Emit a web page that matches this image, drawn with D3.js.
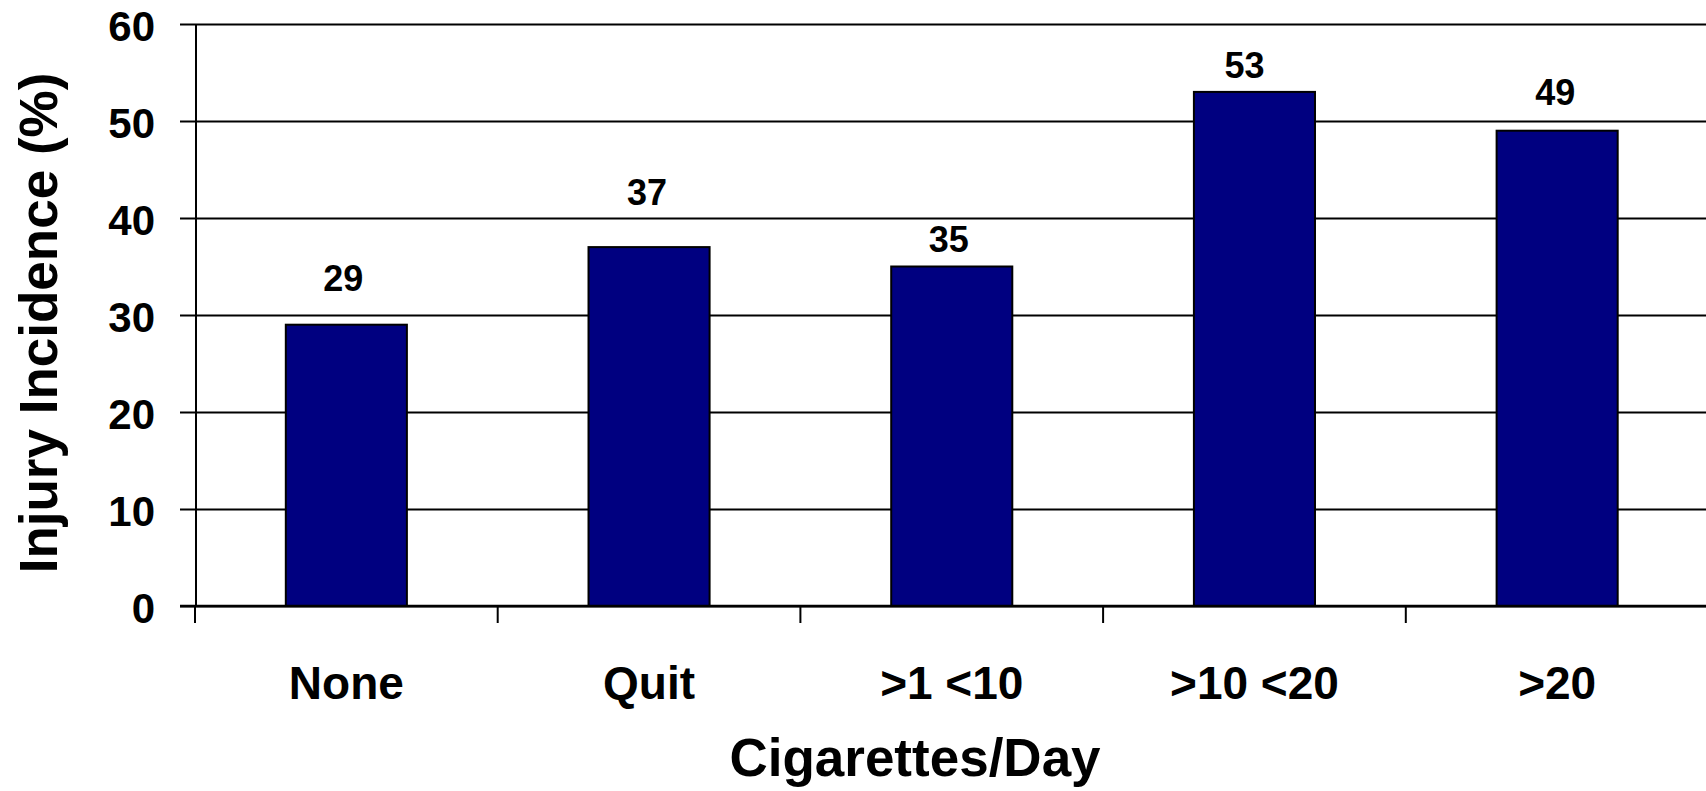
<!DOCTYPE html>
<html>
<head>
<meta charset="utf-8">
<script src="https://cdn.jsdelivr.net/npm/d3@7"></script>
<style>
  html, body { margin: 0; padding: 0; background: #fff; }
  svg { display: block; font-family: "Liberation Sans", Arial, sans-serif; font-weight: bold; }
</style>
</head>
<body>
<svg id="chart" width="1706" height="791"></svg>
<script>
// Injury incidence by smoking habit
const categories = ["None", "Quit", ">1 <10", ">10 <20", ">20"];
const incidence = [29, 37, 35, 53, 49];
const yTicks = [0, 10, 20, 30, 40, 50, 60];

// Value label placement: vertical gap above each bar top and a small horizontal nudge (px)
const labelGap = [34, 42, 15, 14, 26];
const labelNudge = [-3, -2, -3, -10, -2];

const W = 1706, H = 791;
const plot = { left: 195, right: 1708.5, top: 24, bottom: 606 };

const svg = d3.select("#chart");

const x = d3.scaleBand()
  .domain(categories)
  .range([plot.left, plot.right])
  .paddingInner(0.6)
  .paddingOuter(0.3);

const y = d3.scaleLinear()
  .domain([0, 60])
  .range([plot.bottom, plot.top]);

// Horizontal gridlines with outward tick stubs and value labels
const gridAxis = d3.axisLeft(y)
  .tickValues(yTicks)
  .tickSizeInner(-(plot.right - 180))
  .tickSizeOuter(0)
  .tickPadding(25);

const gy = svg.append("g")
  .attr("transform", "translate(180,0)")
  .call(gridAxis);
gy.select(".domain").remove();
gy.selectAll(".tick line").attr("stroke", "#000").attr("stroke-width", 2);
gy.selectAll(".tick text")
  .attr("fill", "#000")
  .attr("font-size", 42)
  .attr("font-weight", "bold")
  .attr("font-family", "'Liberation Sans', Arial, sans-serif")
  .attr("dy", "0.4em");

const rows = categories.map((c, i) => ({ c, v: incidence[i], i }));

// Bars
svg.append("g")
  .selectAll("rect")
  .data(rows)
  .join("rect")
  .attr("x", d => x(d.c))
  .attr("y", d => y(d.v))
  .attr("width", x.bandwidth())
  .attr("height", d => y(0) - y(d.v))
  .attr("fill", "#000080")
  .attr("stroke", "#000")
  .attr("stroke-width", 2);

// Value labels above bars
svg.append("g")
  .selectAll("text")
  .data(rows)
  .join("text")
  .attr("x", d => x(d.c) + x.bandwidth() / 2 + labelNudge[d.i])
  .attr("y", d => y(d.v) - labelGap[d.i])
  .attr("text-anchor", "middle")
  .attr("font-size", 36)
  .attr("fill", "#000")
  .text(d => d.v);

// Vertical axis line
svg.append("line")
  .attr("x1", 196).attr("x2", 196)
  .attr("y1", y(60)).attr("y2", y(0))
  .attr("stroke", "#000").attr("stroke-width", 2);

// Baseline
svg.append("line")
  .attr("x1", 180).attr("x2", plot.right)
  .attr("y1", y(0)).attr("y2", y(0))
  .attr("stroke", "#000").attr("stroke-width", 2.5);

// Category boundary ticks below the baseline
const step = x.step();
svg.append("g")
  .selectAll("line")
  .data(categories)
  .join("line")
  .attr("x1", d => x(d) - step * x.paddingOuter())
  .attr("x2", d => x(d) - step * x.paddingOuter())
  .attr("y1", y(0))
  .attr("y2", y(0) + 17)
  .attr("stroke", "#000")
  .attr("stroke-width", 2);

// Category labels
const xAxis = d3.axisBottom(x).tickSize(0).tickPadding(0);
const gx = svg.append("g")
  .attr("transform", "translate(0,699)")
  .call(xAxis);
gx.select(".domain").remove();
gx.selectAll(".tick text")
  .attr("fill", "#000")
  .attr("font-size", 46)
  .attr("font-weight", "bold")
  .attr("font-family", "'Liberation Sans', Arial, sans-serif")
  .attr("dy", 0)
  .attr("y", 0);

// Axis titles
svg.append("text")
  .attr("x", 915)
  .attr("y", 776)
  .attr("text-anchor", "middle")
  .attr("font-size", 53)
  .attr("fill", "#000")
  .text("Cigarettes/Day");

svg.append("text")
  .attr("transform", "translate(57,323) rotate(-90)")
  .attr("text-anchor", "middle")
  .attr("font-size", 53)
  .attr("fill", "#000")
  .text("Injury Incidence (%)");
</script>
</body>
</html>
